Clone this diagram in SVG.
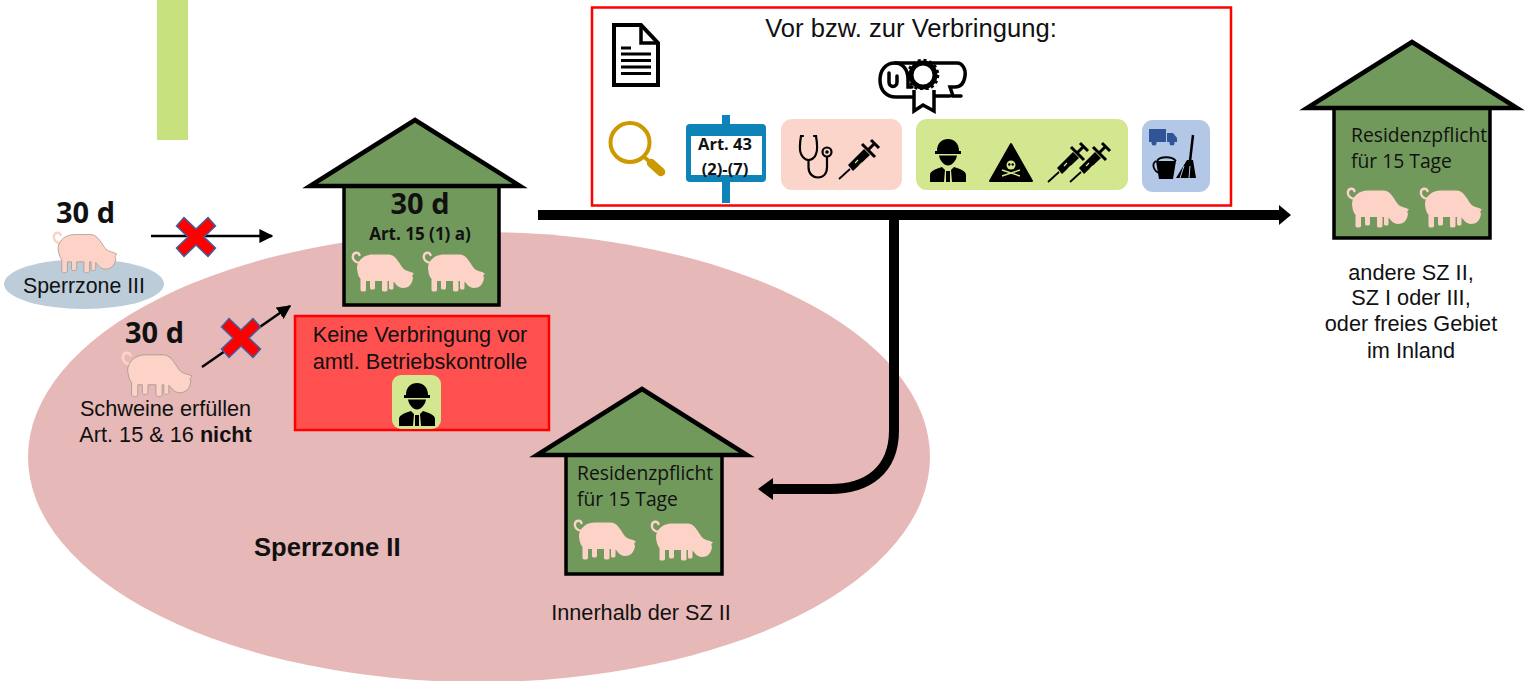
<svg xmlns="http://www.w3.org/2000/svg" width="1527" height="681" viewBox="0 0 1527 681">
<style>
.a{font-family:"Liberation Sans",Arial,sans-serif;fill:#111;font-size:21.700px}
.c{font-family:"Open Sans","Noto Sans",sans-serif;fill:#111}
.r{font-size:19.300px}
.d{font-size:29px;font-weight:700}
.m{text-anchor:middle}
.roof{fill:#72995c;stroke:#000;stroke-width:4.500;stroke-linejoin:miter}
.body{fill:#72995c;stroke:#000;stroke-width:3.500}
.x{fill:#f00;stroke:#3f5f9f;stroke-width:1.500}
.out{stroke:#a89a92;stroke-width:.8}
</style>
<defs>
<g id="pig">
<path d="M8 11C3 11 0 7 1 3.500C2 0 6.500 0 7.500 3" fill="none" stroke="#fdd3c8" stroke-width="2.400" stroke-linecap="round"/>
<path d="M5 15C6 8 12 2.500 21 2.500H36C43 2.500 46 9 50 15C52 18 55 19 59 20L62 21.500C60 23 60 24 61 26C60 33 56 36 51 36C46 36 44 32 41.500 29.500V36C41.500 38 37 38 37 36V29H35.500V38C35.500 40 30 40 30 38V29H23V36C23 38 18 38 18 36V29H14V38C14 40 8.500 40 8.500 38V27C6 24 5 19 5 15Z" fill="#fdd3c8"/>
</g>
<g id="soldier">
<path d="M7 14C7 6 12 2 18 2S29 6 29 14H31V17H5V14Z" fill="#000"/>
<path d="M9 18.500H27C26 24 22 28.500 18 28.500S10 24 9 18.500Z" fill="#000"/>
<path d="M0 45V38C0 34 6 32 12 30L15 33L14 45ZM36 45V38C36 34 30 32 24 30L21 33L22 45ZM16 34H20V45H16Z" fill="#000"/>
</g>
<g id="syringe">
<path d="M0 40L11 30" stroke="#000" stroke-width="1.800" fill="none"/>
<path d="M9 26L25 10L31 16L14 32Z" fill="#000"/>
<path d="M23 5L36 18M30 10L36 4M32 1L40 9" stroke="#000" stroke-width="3" fill="none"/>
<path d="M16 24L19 21M20 27L23 24" stroke="#d8e68e" stroke-width="1.200"/>
</g>
<path id="xm" d="M-12 -19.500L0 -8L12 -19.500L19.500 -11L8 0L19.500 11L12 19.500L0 8L-12 19.500L-19.500 11L-8 0L-19.500 -11Z"/>
<marker id="ah" viewBox="0 0 10 10" refX="9" refY="5" markerWidth="14" markerHeight="14" markerUnits="userSpaceOnUse" orient="auto"><path d="M0 0L10 5L0 10Z" fill="#000"/></marker>
</defs>

<rect id="bar" x="157" y="0" width="31" height="140" fill="#c6e17d"/>
<ellipse id="zone2" cx="479" cy="457" rx="451" ry="225" fill="#e6b8b7"/>
<text class="a" x="254" y="556" style="font-size:25.600px" font-weight="700">Sperrzone II</text>

<g id="zone3">
<ellipse cx="84" cy="284" rx="80" ry="25" fill="#bdccd9"/>
<use href="#pig" class="out" transform="translate(53,232) scale(1.030)"/>
<text class="c d m" x="85.500" y="223">30 d</text>
<text class="a m" x="84" y="293" style="font-size:21.300px">Sperrzone III</text>
</g>

<g id="pigs-inside">
<use href="#pig" class="out" transform="translate(122,352) scale(1.130)"/>
<text class="c d m" x="154.500" y="343">30 d</text>
<text class="a m" x="165.500" y="416">Schweine erfüllen</text>
<text class="a m" x="165.500" y="442">Art. 15 &amp; 16 <tspan font-weight="700">nicht</tspan></text>
</g>

<g id="house-main">
<rect class="body" x="344" y="186" width="155" height="119"/>
<path class="roof" d="M415 120L520 186H310Z"/>
<text class="c d m" x="420" y="214">30 d</text>
<text class="c m" x="420" y="240" font-size="17" font-weight="700">Art. 15 (1) a)</text>
<use href="#pig" transform="translate(352,252)"/>
<use href="#pig" transform="translate(423,252)"/>
</g>

<g id="no-move">
<rect x="295" y="316" width="254" height="114" fill="#ff5050" stroke="#f00" stroke-width="2.500"/>
<text class="a m" x="420" y="342">Keine Verbringung vor</text>
<text class="a m" x="420" y="369">amtl. Betriebskontrolle</text>
<rect x="392" y="375" width="49" height="54" rx="9" fill="#d3e690"/>
<use href="#soldier" transform="translate(399,381)"/>
</g>

<g id="house-inner">
<rect class="body" x="566" y="455" width="156" height="119"/>
<path class="roof" d="M642 389L747 455H537Z"/>
<text class="c r" x="577" y="480">Residenzpflicht</text>
<text class="c r" x="577" y="506">für 15 Tage</text>
<use href="#pig" transform="translate(574,520)"/>
<use href="#pig" transform="translate(651,521)"/>
<text class="a m" x="641" y="620">Innerhalb der SZ II</text>
</g>

<g id="house-out">
<rect class="body" x="1334" y="108" width="156" height="130"/>
<path class="roof" d="M1412 42L1517 108H1307Z"/>
<text class="c r" x="1351" y="142">Residenzpflicht</text>
<text class="c r" x="1351" y="168">für 15 Tage</text>
<use href="#pig" transform="translate(1347,188)"/>
<use href="#pig" transform="translate(1420,188)"/>
<text class="a m" x="1411" y="280">andere SZ II,</text>
<text class="a m" x="1411" y="305">SZ I oder III,</text>
<text class="a m" x="1411" y="331">oder freies Gebiet</text>
<text class="a m" x="1411" y="358">im Inland</text>
</g>

<g id="requirements">
<rect x="592" y="7.500" width="639" height="198" fill="#fff" stroke="#f00" stroke-width="2.500"/>
<text class="a m" x="911" y="37" style="font-size:25.600px">Vor bzw. zur Verbringung:</text>
<g id="doc" fill="none" stroke="#000">
<path d="M614 25H641L658 43V85H614Z" fill="#fff" stroke-width="4"/>
<path d="M641 25V43H658" stroke-width="3.500"/>
<path d="M621 48H631M621 54H651M621 60.500H651M621 67H651M621 73.500H651" stroke-width="3"/>
</g>
<g id="diploma" fill="none" stroke="#000" stroke-width="3.500" stroke-linecap="round">
<path d="M895 63H957C963 63 966 70 965 76C964 83 961 87 955 87H950L953 96H961M895 63C885 63 880 71 880 80C880 90 886 97 896 97H912M932 96H950"/>
<path d="M895 63C903 63 908 70 908 79V87H912M889 73V82C889 88 897 88 897 82V76"/>
<circle cx="923" cy="75" r="12" fill="#fff" stroke-width="5" stroke-linecap="butt"/>
<circle cx="923" cy="75" r="15" stroke-width="2.500" stroke-dasharray="3 2.900" stroke-linecap="butt"/>
<path d="M914 90V111L923 105L934 111V90" fill="#fff" stroke-linecap="butt"/>
</g>
<g id="magnifier">
<circle cx="630" cy="142.500" r="19.500" fill="none" stroke="#cc9900" stroke-width="4"/>
<path d="M644 157L649 161" stroke="#cc9900" stroke-width="4"/>
<path d="M651 163L661 172" stroke="#cc9900" stroke-width="8.500" stroke-linecap="round"/>
</g>
<g id="sign">
<rect x="722" y="115" width="8" height="88" fill="#0e83b7"/>
<rect x="686" y="124" width="80" height="58" rx="4" fill="#0e83b7"/>
<rect x="691" y="136" width="71" height="39" fill="#fff"/>
<text class="c m" x="725" y="150" font-size="16.500" font-weight="700">Art. 43</text>
<text class="c m" x="725" y="175" font-size="16.500" font-weight="700">(2)-(7)</text>
</g>
<g id="health">
<rect x="781" y="119" width="121" height="71" rx="11" fill="#fcd5ca"/>
<g fill="none" stroke="#000" stroke-width="2.200" stroke-linecap="round">
<path d="M803 136H801C800 142 799 150 801 154C803 158 806 160 808.500 160C811 160 815 158 816 154C818 150 817 142 816 136H814"/>
<path d="M808.500 160V167C808.500 174 813 177.500 818 177.500C823 177.500 827 174 827 167V157"/>
<circle cx="827" cy="152" r="4.500"/>
</g>
<circle cx="827" cy="152" r="1.800"/>
<use href="#syringe" transform="translate(839,139)"/>
</g>
<g id="official">
<rect x="916" y="119" width="212" height="71" rx="11" fill="#d3e690"/>
<use href="#soldier" transform="translate(930,137)"/>
<path d="M1011 144L1032 181H990Z" fill="#000" stroke="#000" stroke-width="2" stroke-linejoin="round"/>
<circle cx="1011" cy="165" r="4.500" fill="#d3e690"/>
<circle cx="1009.300" cy="164.500" r="1.200"/><circle cx="1012.700" cy="164.500" r="1.200"/>
<path d="M1002 170L1020 176M1020 170L1002 176" stroke="#d3e690" stroke-width="1.500"/>
<use href="#syringe" transform="translate(1048,142)"/>
<use href="#syringe" transform="translate(1070,142)"/>
</g>
<g id="cleaning">
<rect x="1142" y="120" width="68" height="72" rx="11" fill="#b3c7e6"/>
<path d="M1149 129H1166V142H1149ZM1167 133H1173L1177 138V142H1167Z" fill="#2f5597"/>
<circle cx="1154" cy="143" r="2.500" fill="#2f5597"/><circle cx="1172" cy="143" r="2.500" fill="#2f5597"/>
<path d="M1156 161H1176L1173 179H1159Z" fill="#000"/>
<path d="M1156 161C1151 164 1154 172 1160 173M1157 161C1160 156 1172 156 1176 161" fill="none" stroke="#000" stroke-width="1.800"/>
<path d="M1193 135L1190 161" stroke="#000" stroke-width="2.500"/>
<path d="M1187 160H1193L1196 178H1176Z" fill="#000"/>
<path d="M1184 166L1180 178M1190 166L1189 178" stroke="#b3c7e6" stroke-width="1"/>
</g>
</g>

<g id="connectors">
<path d="M538 215H1280" stroke="#000" stroke-width="10" fill="none"/>
<path d="M1279 205L1291 215L1279 225Z" fill="#000"/>
<path d="M894 215V430C894 470 868 489 830 489H772" stroke="#000" stroke-width="10" fill="none"/>
<path d="M773 478L758 489L773 500Z" fill="#000"/>
<path d="M151 236H272" stroke="#000" stroke-width="2.500" marker-end="url(#ah)"/>
<path d="M202 367L290 306" stroke="#000" stroke-width="2.500" marker-end="url(#ah)"/>
<use href="#xm" class="x" transform="translate(196,237)"/>
<use href="#xm" class="x" transform="translate(241,338)"/>
</g>
</svg>
